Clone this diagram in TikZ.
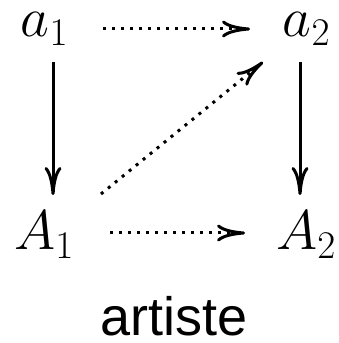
\RequirePackage{fix-cm}
\documentclass[tikz,border=0pt]{standalone}
\usepackage{fontspec}
\newfontfamily\artfont{Liberation Sans}
\usetikzlibrary{arrows.meta}
\tikzset{
  obj/.style={inner sep=0pt, anchor=base, font=\fontsize{56}{64}\selectfont},
  captext/.style={inner sep=0pt, anchor=base, font=\artfont\fontsize{54}{62}\selectfont},
  arr/.style={line width=3pt, -{Computer Modern Rightarrow[length=28pt,width=17pt]}},
  dotarr/.style={arr, dash pattern=on 3pt off 6pt}
}
\begin{document}
\begin{tikzpicture}[x=1pt,y=1pt]
\useasboundingbox (0,0) rectangle (339,343);
\node[obj] (a1) at (44.5,306) {$a_1$};
\node[obj] (a2) at (306.5,306) {$a_2$};
\node[obj] (A1) at (44,93) {$A_1$};
\node[obj] (A2) at (306,93) {$A_2$};
\node[captext] (t) at (174,8) {artiste};
\draw[arr] ([shift={(8.5,-25)}]a1.base) -- ([shift={(9,55)}]A1.base);
\draw[arr] ([shift={(-6.5,-25)}]a2.base) -- ([shift={(-6,55)}]A2.base);
\draw[dotarr] ([shift={(58.5,8)}]a1.base) -- ([shift={(-56.5,8)}]a2.base);
\draw[dotarr] ([shift={(66,17)}]A1.base) -- ([shift={(-61,17)}]A2.base);
\draw[dotarr] ([shift={(57,56)}]A1.base) -- ([shift={(-43.5,-25)}]a2.base);
\end{tikzpicture}
\end{document}
